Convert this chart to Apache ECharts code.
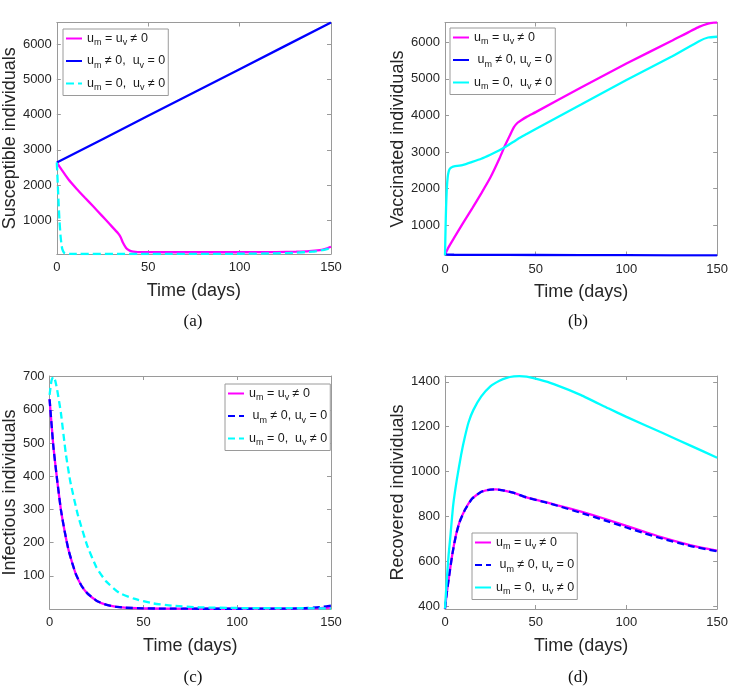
<!DOCTYPE html>
<html><head><meta charset="utf-8">
<script src="https://cdn.jsdelivr.net/npm/echarts@6/dist/echarts.min.js"></script>
<style>html,body{margin:0;padding:0;background:#fff}#c{width:731px;height:688px}</style>
</head><body><div id="c"></div><script>
// ---------- tick labels ----------
const xTicks = [0, 50, 100, 150];
const yTicksA = [1000, 2000, 3000, 4000, 5000, 6000];
const yTicksB = [1000, 2000, 3000, 4000, 5000, 6000];
const yTicksC = [100, 200, 300, 400, 500, 600, 700];
const yTicksD = [400, 600, 800, 1000, 1200, 1400];

// ---------- (a) Susceptible ----------
const A_t1 = [0, 2.7, 6.3, 10.9, 15.4, 20, 24.5, 29, 33.5, 35, 36.2, 37.9, 39.5, 41, 43, 46, 50, 70, 100, 120, 131, 138, 144, 147, 150];
const A_v1 = [2640, 2430, 2165, 1890, 1640, 1390, 1140, 885, 630, 510, 360, 215, 150, 120, 105, 98, 95, 92, 92, 98, 110, 125, 156, 190, 250];
const A_t2 = [0, 50, 100, 150];
const A_v2 = [2640, 3965, 5290, 6615];
const A_t3 = [0, 0.5, 1, 1.5, 2, 2.5, 3, 4, 5, 7, 50, 100, 120, 130, 140, 145, 150];
const A_v3 = [2640, 2050, 1450, 950, 580, 330, 180, 75, 50, 44, 43, 50, 62, 78, 110, 150, 215];

// ---------- (b) Vaccinated ----------
const B_t1 = [0, 2, 5, 10, 15, 20, 25, 30, 33, 36, 38, 40, 42, 45, 50, 75, 100, 125, 140, 145, 148, 150];
const B_v1 = [200, 400, 650, 1060, 1460, 1870, 2300, 2820, 3170, 3480, 3680, 3800, 3870, 3960, 4090, 4760, 5420, 6040, 6420, 6510, 6535, 6540];
const B_t2 = [0, 1, 5, 20, 50, 100, 150];
const B_v2 = [205, 195, 190, 188, 184, 178, 172];
const B_t3 = [0, 0.3, 0.6, 1, 1.5, 2, 2.5, 3, 4, 5, 10, 15, 20, 25, 30, 35, 40, 45, 50, 75, 100, 125, 140, 145, 150];
const B_v3 = [175, 900, 1500, 2000, 2320, 2460, 2530, 2560, 2590, 2605, 2650, 2730, 2815, 2925, 3045, 3190, 3350, 3490, 3630, 4300, 4970, 5610, 6030, 6130, 6150];

// ---------- (c) Infectious ----------
const C_t1 = [0, 2, 4, 6, 8, 10, 12, 14, 17, 20, 25, 30, 35, 40, 50, 60, 80, 100, 120, 135, 145, 150];
const C_v1 = [632, 490, 390, 300, 235, 180, 140, 105, 70, 48, 25, 13, 7, 4, 2, 1.2, 0.8, 0.8, 1, 1.5, 3, 4];
const C_t2 = [0, 2, 4, 6, 8, 10, 12, 14, 17, 20, 25, 30, 35, 40, 50, 60, 80, 100, 120, 135, 145, 150];
const C_v2 = [632, 490, 390, 300, 235, 180, 140, 105, 70, 48, 25, 13, 7, 4, 2, 1.2, 0.8, 0.8, 1, 2, 6, 10];
const C_t3 = [0, 1, 2, 3, 4, 6, 8.6, 11, 15, 20, 25, 30, 37, 45, 55, 65, 80, 100, 150];
const C_v3 = [645, 688, 700, 688, 662, 592, 470, 385, 285, 192, 125, 84, 49, 31, 17, 10, 5, 3, 2];

// ---------- (d) Recovered ----------
const D_t1 = [0, 1, 2, 4, 6, 8, 11, 15, 20, 25, 28, 32, 38, 45, 55, 62, 75, 88, 100, 110, 120, 135, 150];
const D_v1 = [390, 460, 520, 630, 715, 775, 830, 880, 910, 920, 921, 917, 905, 885, 865, 850, 822, 790, 758, 732, 706, 673, 648];
const D_t2 = [0, 1, 2, 4, 6, 8, 11, 15, 20, 25, 28, 32, 38, 45, 55, 62, 75, 88, 100, 110, 120, 135, 150];
const D_v2 = [390, 460, 520, 630, 715, 775, 830, 880, 910, 920, 921, 917, 905, 885, 864, 848, 816, 783, 751, 725, 701, 669, 645];
const D_t3 = [0, 1, 2, 3, 4.5, 6.5, 9, 11, 13, 15.6, 20, 25, 30, 34, 38, 41, 45, 52, 60, 75, 90, 100, 120, 135, 150];
const D_v3 = [390, 520, 630, 715, 850, 963, 1080, 1156, 1220, 1274, 1335, 1380, 1405, 1418, 1424, 1425, 1423, 1410, 1390, 1341, 1282, 1244, 1172, 1117, 1062];

// ---------- legend texts ----------
const LBL_EQ = '{n|u}{s|m}{n| = u}{s|v}{n| \u2260 0}';
const LBL_M_A = '{n|u}{s|m}{n| \u2260 0,  u}{s|v}{n| = 0}';
const LBL_M_B = '{n| u}{s|m}{n| \u2260 0, u}{s|v}{n| = 0}';
const LBL_V = '{n|u}{s|m}{n| = 0,  u}{s|v}{n| \u2260 0}';

const MAG = '#ff00ff', BLU = '#0000ff', CYA = '#00ffff';
const FRAME = '#9a9a9a', TXT = '#262626';
const SANS = '"Liberation Sans", Arial, sans-serif';

function pairs(t, v) { return t.map((x, i) => [x, v[i]]); }
const plain = v => String(v);

const panels = [
  { key: 'a', grid: { left: 55, top: 22.5, width: 276, height: 231.5 }, yMin: 43, yMax: 6615, yTicks: yTicksA,
    yName: 'Susceptible individuals', yGap: 33, caption: '(a)', cap: [193, 322],
    legend: { left: 63, top: 29 },
    series: [
      { id: 'a1', label: LBL_EQ, t: A_t1, v: A_v1, color: MAG, type: 'solid' },
      { id: 'a2', label: LBL_M_A, t: A_t2, v: A_v2, color: BLU, type: 'solid' },
      { id: 'a3', label: LBL_V, t: A_t3, v: A_v3, color: CYA, type: [8, 4] } ] },
  { key: 'b', grid: { left: 445, top: 22.5, width: 275, height: 233 }, yMin: 170, yMax: 6540, yTicks: yTicksB,
    yName: 'Vaccinated individuals', yGap: 34, caption: '(b)', cap: [578, 322],
    legend: { left: 450, top: 28 },
    series: [
      { id: 'b1', label: LBL_EQ, t: B_t1, v: B_v1, color: MAG, type: 'solid' },
      { id: 'b2', label: LBL_M_B, t: B_t2, v: B_v2, color: BLU, type: 'solid' },
      { id: 'b3', label: LBL_V, t: B_t3, v: B_v3, color: CYA, type: 'solid' } ] },
  { key: 'c', grid: { left: 49, top: 376, width: 282, height: 233 }, yMin: 0, yMax: 702, yTicks: yTicksC,
    yName: 'Infectious individuals', yGap: 27, caption: '(c)', cap: [193, 678],
    legend: { left: 225, top: 384 },
    series: [
      { id: 'c1', label: LBL_EQ, t: C_t1, v: C_v1, color: MAG, type: 'solid' },
      { id: 'c2', label: LBL_M_B, t: C_t2, v: C_v2, color: BLU, type: [7, 4] },
      { id: 'c3', label: LBL_V, t: C_t3, v: C_v3, color: CYA, type: [7, 4] } ] },
  { key: 'd', grid: { left: 445, top: 376, width: 275, height: 233 }, yMin: 388, yMax: 1426, yTicks: yTicksD,
    yName: 'Recovered individuals', yGap: 34, caption: '(d)', cap: [578, 678],
    legend: { left: 472, top: 533 },
    series: [
      { id: 'd1', label: LBL_EQ, t: D_t1, v: D_v1, color: MAG, type: 'solid' },
      { id: 'd2', label: LBL_M_B, t: D_t2, v: D_v2, color: BLU, type: [7, 4] },
      { id: 'd3', label: LBL_V, t: D_t3, v: D_v3, color: CYA, type: 'solid' } ] }
];

const labelMap = {};
panels.forEach(p => p.series.forEach(s => { labelMap[s.id] = s.label; }));

const option = { animation: false, backgroundColor: '#fff', grid: [], xAxis: [], yAxis: [], series: [], legend: [], graphic: [] };
const tickStyle = { inside: true, length: 4, lineStyle: { color: FRAME } };

panels.forEach((p, i) => {
  option.grid.push(Object.assign({ show: false }, p.grid));
  const xBase = { type: 'value', gridIndex: i, min: 0, max: 150, splitLine: { show: false },
    axisLine: { show: true, onZero: false, lineStyle: { color: FRAME, width: 1 } } };
  option.xAxis.push(Object.assign({}, xBase, { position: 'bottom',
    axisTick: Object.assign({ customValues: xTicks }, tickStyle),
    axisLabel: { customValues: xTicks, formatter: plain, color: TXT, fontSize: 13, fontFamily: SANS, margin: 7 },
    name: 'Time (days)', nameLocation: 'middle', nameGap: 28,
    nameTextStyle: { fontSize: 18, color: TXT, fontFamily: SANS } }));
  option.xAxis.push(Object.assign({}, xBase, { position: 'top',
    axisTick: Object.assign({ customValues: xTicks }, tickStyle), axisLabel: { show: false } }));
  const yBase = { type: 'value', gridIndex: i, min: p.yMin, max: p.yMax, splitLine: { show: false },
    axisLine: { show: true, onZero: false, lineStyle: { color: FRAME, width: 1 } } };
  option.yAxis.push(Object.assign({}, yBase, { position: 'left',
    axisTick: Object.assign({ customValues: p.yTicks }, tickStyle),
    axisLabel: { customValues: p.yTicks, formatter: plain, color: TXT, fontSize: 13, fontFamily: SANS, margin: 5 },
    name: p.yName, nameLocation: 'middle', nameGap: p.yGap,
    nameTextStyle: { fontSize: 18, color: TXT, fontFamily: SANS } }));
  option.yAxis.push(Object.assign({}, yBase, { position: 'right',
    axisTick: Object.assign({ customValues: p.yTicks }, tickStyle), axisLabel: { show: false } }));

  p.series.forEach((s, k) => {
    option.series.push({ type: 'line', name: s.id, xAxisIndex: 2 * i, yAxisIndex: 2 * i,
      data: pairs(s.t, s.v), symbol: 'none', showSymbol: false, smooth: 0.15, clip: true,
      lineStyle: { color: s.color, width: 2.3, type: s.type }, itemStyle: { color: s.color }, z: 2 + k });
  });

  option.legend.push({ orient: 'vertical', left: p.legend.left, top: p.legend.top,
    data: p.series.map(s => s.id), formatter: n => labelMap[n],
    itemWidth: 16, itemHeight: 10, itemGap: 7, padding: [3, 3, 3, 2],
    itemStyle: { opacity: 0 },
    borderColor: FRAME, borderWidth: 1, backgroundColor: '#fff', selectedMode: false,
    textStyle: { color: '#1a1a1a', fontFamily: SANS, fontSize: 12.5,
      rich: { n: { fontSize: 12.5, fontFamily: SANS, color: '#1a1a1a' },
              s: { fontSize: 9, fontFamily: SANS, color: '#1a1a1a', padding: [9, 0, 0, 0] } } } });

  option.graphic.push({ type: 'text', x: p.cap[0], y: p.cap[1],
    style: { text: p.caption, fill: '#111', font: '17px "Liberation Serif", serif', align: 'center', verticalAlign: 'middle' } });
});

const chart = echarts.init(document.getElementById('c'), null, { renderer: 'canvas' });
chart.setOption(option);
</script></body></html>
